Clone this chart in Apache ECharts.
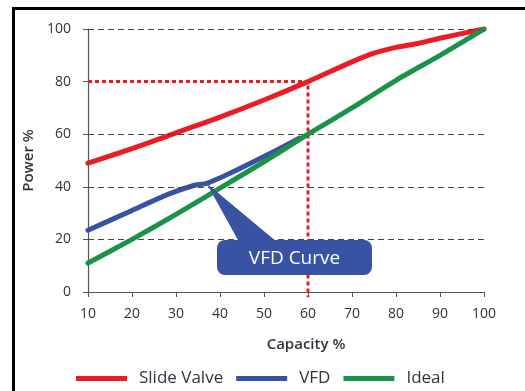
<!DOCTYPE html>
<html>
<head>
<meta charset="utf-8">
<script src="https://cdn.jsdelivr.net/npm/echarts@6/dist/echarts.min.js"></script>
<style>
html,body{margin:0;padding:0;background:#fff;}
#frame{position:absolute;left:12px;top:7px;width:513px;height:384px;border-left:3px solid #000;border-top:3px solid #000;box-sizing:border-box;}
#chart{position:absolute;left:0;top:0;width:525px;height:391px;}
</style>
</head>
<body>
<div id="frame"></div>
<div id="chart"></div>
<script>
// ---- data ----
const xTicks = [10, 20, 30, 40, 50, 60, 70, 80, 90, 100];
const yTicks = [0, 20, 40, 60, 80, 100];
const seriesNames = ['Slide Valve', 'VFD', 'Ideal'];

const slideCapacity = [10, 20, 30, 40, 50, 60, 70, 75, 80, 85, 90, 100];
const slidePower    = [49, 54.5, 60.5, 66.5, 73, 80, 87.5, 90.8, 93, 94.5, 96.5, 100];

const vfdCapacity = [10, 20, 28, 34, 37, 43, 50, 55, 58];
const vfdPower    = [23.5, 31, 37, 40.5, 41.3, 45.7, 51.5, 55.8, 58.5];

const idealCapacity = [10, 20, 30, 40, 50, 60, 70, 80, 90, 100];
const idealPower    = [11, 20, 29.5, 39.5, 49.5, 60, 70, 80.5, 90, 100];

const refCapacity = [10, 60, 60];
const refPower    = [80, 80, -2];

const gridValues = [20, 40, 60, 100];
const annotationText = 'VFD Curve';
const annotationPointIndex = 4; // VFD kink

const zip = (a, b) => a.map((v, i) => [v, b[i]]);

const RED = '#ec1c24', BLUE = '#3953a4', GREEN = '#1a9247';
const FONT = 'Open Sans';
const TXT = '#33333f';

const chart = echarts.init(document.getElementById('chart'));
chart.setOption({
  animation: false,
  textStyle: { fontFamily: FONT },
  grid: { left: 88, right: 41, top: 29, bottom: 99 },
  xAxis: {
    type: 'value', min: 10, max: 100, interval: 10,
    name: 'Capacity %', nameLocation: 'middle', nameGap: 45,
    nameTextStyle: { fontFamily: FONT, fontSize: 15, fontWeight: 600, color: TXT, padding: [0, 0, 0, 40] },
    axisLine: { lineStyle: { color: '#555', width: 1.2 } },
    axisTick: { show: true, length: 5, lineStyle: { color: '#555' } },
    axisLabel: { margin: 15, fontSize: 14, color: TXT, fontFamily: FONT },
    splitLine: { show: false }
  },
  yAxis: {
    type: 'value', min: 0, max: 100, interval: 20,
    name: 'Power %', nameLocation: 'middle', nameGap: 47,
    nameTextStyle: { fontFamily: FONT, fontSize: 15, fontWeight: 600, color: TXT },
    axisLine: { show: true, lineStyle: { color: '#555', width: 1.2 } },
    axisTick: { show: true, length: 5, lineStyle: { color: '#555' } },
    axisLabel: { margin: 17, fontSize: 14, color: TXT, fontFamily: FONT },
    splitLine: { show: false }
  },
  legend: {
    data: seriesNames,
    left: 76, top: 370, padding: 0,
    icon: 'rect', itemWidth: 51, itemHeight: 5, itemGap: 13,
    textStyle: { fontSize: 17, color: TXT, fontFamily: FONT, padding: [0, 0, 0, 7] }
  },
  series: [
    {
      name: 'grid', type: 'line', data: [], silent: true,
      markLine: {
        silent: true, symbol: 'none', label: { show: false },
        lineStyle: { color: '#444', width: 1, type: [6, 4] },
        data: gridValues.map(v => ({ yAxis: v }))
      }
    },
    {
      name: 'ref', type: 'line', data: zip(refCapacity, refPower),
      clip: false, symbol: 'none', silent: true, z: 3,
      lineStyle: { color: RED, width: 3, type: [4, 3] }
    },
    {
      name: 'Slide Valve', type: 'line', data: zip(slideCapacity, slidePower),
      smooth: 0.3, symbol: 'none', z: 4,
      lineStyle: { color: RED, width: 5, cap: 'round' }, itemStyle: { color: RED }
    },
    {
      name: 'VFD', type: 'line', data: zip(vfdCapacity, vfdPower),
      smooth: 0.2, symbol: 'none', z: 4,
      lineStyle: { color: BLUE, width: 5, cap: 'round' }, itemStyle: { color: BLUE }
    },
    {
      name: 'Ideal', type: 'line', data: zip(idealCapacity, idealPower),
      smooth: 0.2, symbol: 'none', z: 5,
      lineStyle: { color: GREEN, width: 5, cap: 'round' }, itemStyle: { color: GREEN }
    }
  ]
});

// annotation callout pointing at the VFD kink
const apex = chart.convertToPixel({ gridIndex: 0 },
  [vfdCapacity[annotationPointIndex], vfdPower[annotationPointIndex]]);
const box = { x: 217, y: 240, w: 155, h: 35 };
chart.setOption({
  graphic: [
    {
      type: 'polygon', z: 100,
      shape: { points: [[apex[0], apex[1]], [box.x + 22, box.y + 2], [box.x + 60, box.y + 2]] },
      style: { fill: BLUE }
    },
    {
      type: 'rect', z: 100,
      shape: { x: box.x, y: box.y, width: box.w, height: box.h, r: 8 },
      style: { fill: BLUE }
    },
    {
      type: 'text', z: 101,
      x: box.x + box.w / 2, y: box.y + box.h / 2 + 1,
      style: { text: annotationText, fill: '#fff', font: '500 19px "Open Sans"', align: 'center', verticalAlign: 'middle' }
    }
  ]
});
</script>
</body>
</html>
